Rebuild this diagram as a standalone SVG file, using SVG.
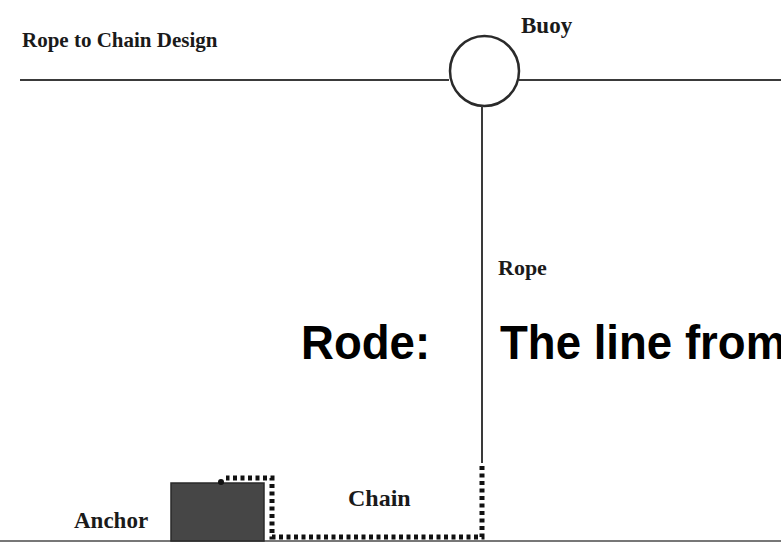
<svg xmlns="http://www.w3.org/2000/svg" width="781" height="542" viewBox="0 0 781 542">
  <style>
    .lbl { font-family: "Liberation Serif", "Times New Roman", serif; font-weight: bold; fill: #1a1a1a; }
    .big { font-family: "Liberation Sans", Arial, sans-serif; font-weight: bold; font-size: 48px; fill: #000; }
    .line { fill: none; stroke: #3a3a3a; stroke-width: 2; }
    .chain { fill: none; stroke: #111; stroke-width: 5; stroke-dasharray: 4 3.5; }
  </style>
  <rect width="781" height="542" fill="#fff"/>

  <text class="lbl" x="22" y="47" font-size="21">Rope to Chain Design</text>

  <!-- water surface -->
  <g id="surface">
    <line class="line" x1="20" y1="80" x2="357" y2="80" stroke-width="3"/>
    <line class="line" x1="357" y1="80" x2="449" y2="80"/>
    <line class="line" x1="519" y1="80" x2="781" y2="80"/>
  </g>

  <!-- sea floor -->
  <line x1="0" y1="541" x2="781" y2="541" stroke="#777" stroke-width="2"/>

  <g id="buoy">
    <ellipse cx="484.5" cy="71" rx="34.5" ry="35" fill="#fff" stroke="#2a2a2a" stroke-width="2.5"/>
    <text class="lbl" x="521" y="33" font-size="23">Buoy</text>
  </g>

  <g id="anchor">
    <rect x="171" y="483" width="93" height="58" fill="#464646" stroke="#2a2a2a" stroke-width="1.5"/>
    <text class="lbl" x="74" y="528" font-size="23">Anchor</text>
  </g>

  <g id="connectors">
    <line id="rope" class="line" x1="482" y1="106" x2="482" y2="463" stroke="#555"/>
    <path id="chain" class="chain" d="M482,466 V537 H272 V478 H226"/>
    <circle cx="221" cy="482" r="3" fill="#111"/>
  </g>

  <text class="lbl" x="498" y="275" font-size="22">Rope</text>
  <text class="lbl" x="348" y="506" font-size="24">Chain</text>

  <text class="big" transform="translate(301,359) scale(0.95,1)">Rode:</text>
  <text class="big" transform="translate(500,359) scale(0.95,1)">The line from</text>
</svg>
